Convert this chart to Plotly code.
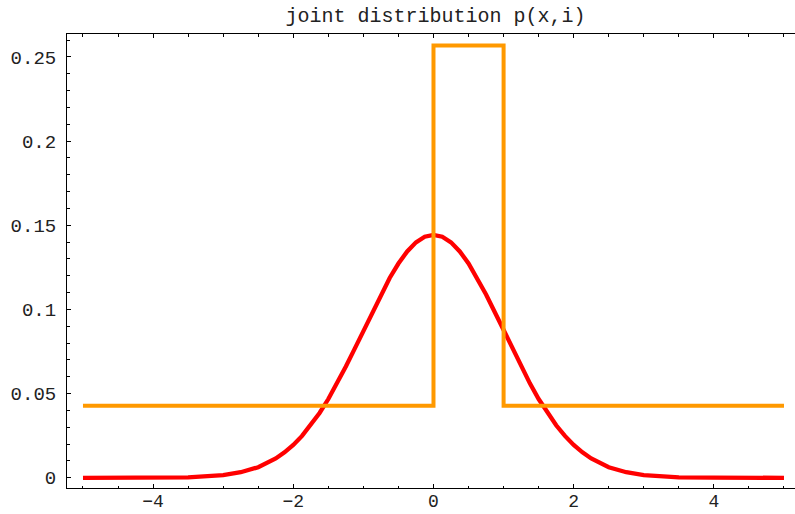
import plotly.graph_objects as go

# Red curve: values
red_x = [-5, -4.5, -4, -3.5, -3, -2.75, -2.5, -2.25, -2.125, -2, -1.875, -1.75, -1.625, -1.5,
         -1.375, -1.25, -1.125, -1, -0.875, -0.75, -0.625, -0.5, -0.375, -0.25, -0.125,
         0, 0.125, 0.25, 0.375, 0.5, 0.625, 0.75, 0.875, 1, 1.125, 1.25, 1.375, 1.5,
         1.625, 1.75, 1.875, 2, 2.125, 2.25, 2.5, 2.75, 3, 3.5, 4, 4.5, 5]
red_y = [0.0, 0.0, 0.00005, 0.0003, 0.0016, 0.0033, 0.0063, 0.0115, 0.0151, 0.0195, 0.0249,
         0.0312, 0.0385, 0.0468, 0.0561, 0.0661, 0.0766, 0.0875, 0.0984, 0.1089, 0.1187,
         0.1273, 0.1345, 0.1399, 0.1432, 0.1443, 0.1432, 0.1399, 0.1345, 0.1273, 0.1187,
         0.1089, 0.0984, 0.0875, 0.0766, 0.0661, 0.0561, 0.0468, 0.0385, 0.0312, 0.0249,
         0.0195, 0.0151, 0.0115, 0.0063, 0.0033, 0.0016, 0.0003, 0.00005, 0.0, 0.0]

# Orange step function
orange_x = [-5, 0, 0, 1, 1, 5]
orange_y = [0.0428, 0.0428, 0.2568, 0.2568, 0.0428, 0.0428]

x_tickvals = [-4, -2, 0, 2, 4]
x_ticktext = ["\u22124", "\u22122", "0", "2", "4"]
y_tickvals = [0, 0.05, 0.1, 0.15, 0.2, 0.25]
y_ticktext = ["0", "0.05", "0.1", "0.15", "0.2", "0.25"]

title_text = "joint distribution p(x,i)"

font_family = "Liberation Mono, DejaVu Sans Mono, monospace"

fig = go.Figure()
fig.add_trace(go.Scatter(x=red_x, y=red_y, mode="lines",
                         line=dict(color="#ff0000", width=4.3), showlegend=False,
                         hoverinfo="skip"))
fig.add_trace(go.Scatter(x=orange_x, y=orange_y, mode="lines",
                         line=dict(color="#ff9900", width=4), showlegend=False,
                         hoverinfo="skip"))

fig.update_layout(
    width=795, height=514,
    margin=dict(l=67, r=0, t=34, b=26),
    paper_bgcolor="white", plot_bgcolor="white",
    title=dict(text=title_text, x=435.5 / 795, xanchor="center", y=1 - 15 / 514, yanchor="middle",
               font=dict(family=font_family, size=20, color="#222222")),
    font=dict(family=font_family, size=19, color="#222222"),
    hovermode=False,
)
fig.update_xaxes(
    range=[-5.228, 5.157], showgrid=False, zeroline=False, automargin=False,
    showline=True, linecolor="black", linewidth=1, mirror="ticks",
    ticks="inside", ticklen=4, tickcolor="black", tickwidth=1,
    tickvals=x_tickvals, ticktext=x_ticktext,
    minor=dict(dtick=0.5, tick0=0, ticks="inside", ticklen=2.5, tickcolor="black", showgrid=False),
    tickfont=dict(family=font_family, size=18, color="#222222"),
    ticklabelstandoff=-4,
)
fig.update_yaxes(
    range=[-0.00606, 0.26366], showgrid=False, zeroline=False, automargin=False,
    showline=True, linecolor="black", linewidth=1, mirror=False,
    ticks="inside", ticklen=4, tickcolor="black", tickwidth=1,
    tickvals=y_tickvals, ticktext=y_ticktext,
    minor=dict(dtick=0.01, tick0=0, ticks="inside", ticklen=2.5, tickcolor="black", showgrid=False),
    tickfont=dict(family=font_family, size=19, color="#222222"),
    ticklabelstandoff=6,
)

fig.write_html(
    "out.html",
    config={"displayModeBar": False, "staticPlot": True},
    post_script="document.body.style.margin='0';document.body.style.overflow='hidden';",
)
